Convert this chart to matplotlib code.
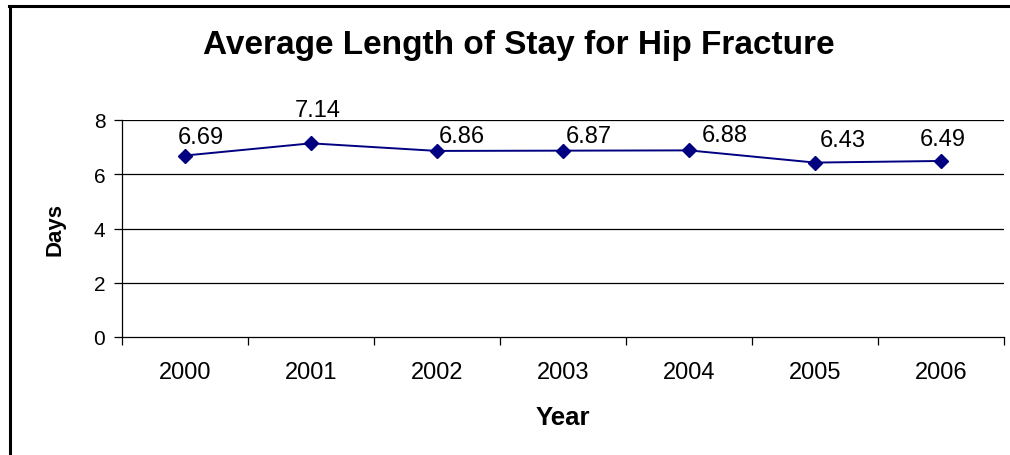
import numpy as np
import matplotlib
import matplotlib.pyplot as plt
from matplotlib.lines import Line2D

matplotlib.use("Agg")
plt.rcParams["font.family"] = ["Liberation Sans", "DejaVu Sans"]

# Chart data
years = ["2000", "2001", "2002", "2003", "2004", "2005", "2006"]
stay = [6.69, 7.14, 6.86, 6.87, 6.88, 6.43, 6.49]
yTicks = [0, 2, 4, 6, 8]

# Hand-placed label offsets in pixels (dx, dy of baseline above the point)
labelOffsets = [(16, 13), (7, 27), (25, 9), (26, 9), (36, 9), (28, 17), (2, 16)]

W, H = 1010, 456
fig = plt.figure(figsize=(W / 100, H / 100), dpi=100)
axLeft, axRight, axTop, axBottom = 122, 1004, 121, 338
ax = fig.add_axes([axLeft / W, 1 - axBottom / H, (axRight - axLeft) / W, (axBottom - axTop) / H])

x = np.arange(len(years))
ax.plot(x, stay, color="#000080", linewidth=1.4, marker="D", markersize=7,
        markerfacecolor="#000080", markeredgecolor="#000080", zorder=3, clip_on=False)

# Data labels
for xi, v, off in zip(x, stay, labelOffsets):
  ax.annotate("%.2f" % v, (xi, v), xytext=off, textcoords="offset pixels",
              ha="center", va="baseline", fontsize=17)

ax.set_xlim(-0.5, len(years) - 0.5)
ax.set_ylim(0, 8)
ax.set_yticks(yTicks)
ax.set_yticklabels([str(t) for t in yTicks], fontsize=15)
for t in yTicks[1:]:
  ax.axhline(t, color="black", linewidth=0.9, zorder=1)

# Category labels centered, tick marks between categories
ax.set_xticks(np.arange(-0.5, len(years), 1.0))
ax.set_xticklabels([])
ax.set_xticks(x, minor=True)
ax.set_xticklabels(years, minor=True, fontsize=17)
ax.tick_params(axis="x", which="major", direction="out", length=6, width=0.9)
ax.tick_params(axis="x", which="minor", length=0, pad=17)
ax.tick_params(axis="y", direction="out", length=6, width=0.9, pad=6)

for side in ["top", "right"]:
  ax.spines[side].set_visible(False)
ax.spines["left"].set_linewidth(0.9)
ax.spines["bottom"].set_linewidth(0.9)

fig.text(55 / W, 1 - 230 / H, "Days", rotation=90, ha="center", va="center",
         fontsize=16, fontweight="bold")
fig.text(563 / W, 1 - 425 / H, "Year", ha="center", va="baseline",
         fontsize=18.5, fontweight="bold")
fig.text(519 / W, 1 - 54 / H, "Average Length of Stay for Hip Fracture", ha="center",
         va="baseline", fontsize=24, fontweight="bold")

# Frame only visible on the top and left edges
fig.add_artist(Line2D([10 / W, 10 / W], [0, 1 - 7 / H], color="black", linewidth=2.2))
fig.add_artist(Line2D([9 / W, 1], [1 - 7 / H, 1 - 7 / H], color="black", linewidth=2.2))

fig.savefig("out.png", dpi=100)
